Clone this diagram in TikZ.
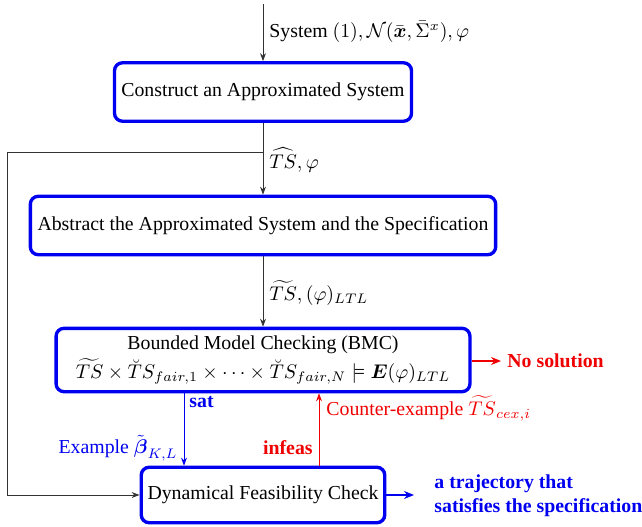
\documentclass[tikz,border=0pt]{standalone}
\usepackage{amsmath}
\usepackage{fontspec}
\setmainfont{Liberation Serif}
\usetikzlibrary{arrows.meta}
\definecolor{bblue}{RGB}{0,0,240}
\definecolor{rred}{RGB}{240,0,0}
\begin{document}
\begin{tikzpicture}[x=0.505pt,y=-0.505pt,
  stepbox/.style={draw=bblue,line width=1.7pt,rounded corners=4pt,align=center,inner sep=2pt},
  arr/.style={draw=black!80,line width=0.45pt,-{Stealth[length=4pt,width=3pt]}},
  blarr/.style={draw=bblue,line width=0.45pt,-{Stealth[length=4pt,width=3pt]}},
  rarr/.style={draw=rred,line width=0.45pt,-{Stealth[length=4pt,width=3pt]}},
  thickb/.style={draw=bblue,line width=1.1pt,-{Stealth[length=5pt,width=4pt]}},
  thickr/.style={draw=rred,line width=1.1pt,-{Stealth[length=5pt,width=4pt]}},
  lbl/.style={inner sep=0pt}
]
\useasboundingbox (0,0) rectangle (642,527);
% boxes
\node[stepbox,minimum width=150pt,minimum height=29.5pt] (b1) at (263,92) {Construct an Approximated System};
\node[stepbox,minimum width=235pt,minimum height=29.5pt] (b2) at (263,225.5) {Abstract the Approximated System and the Specification};
\node[stepbox,minimum width=209pt,minimum height=32pt] (b3) at (263,360) {Bounded Model Checking (BMC)\\[1pt]
  $\widetilde{TS}\times \breve{T}S_{fair,1}\times\cdots\times\breve{T}S_{fair,N}\models \boldsymbol{E}(\varphi)_{LTL}$};
\node[stepbox,minimum width=123pt,minimum height=28pt] (fc) at (263,495) {Dynamical Feasibility Check};
% coordinates
\coordinate (top) at (263,4);
\coordinate (br) at (263,152);
\coordinate (lf) at (7.4,300);
\coordinate (sx) at (184,0);
\coordinate (cx) at (319,0);
\coordinate (ns) at (501,361);
\coordinate (ot) at (414,495);
% connectors
\draw[arr] (top) -- (b1.north);
\draw[arr] (b1.south) -- (b2.north);
\draw[arr] (b2.south) -- (b3.north);
\draw[arr] (br) -| (lf) |- (fc.west);
\draw[blarr] (b3.south -| sx) -- (fc.north -| sx);
\draw[rarr] (fc.north -| cx) -- (b3.south -| cx);
\draw[thickr] (b3.east |- ns) -- (ns);
\draw[thickb] (fc.east) -- (ot);
% labels
\node[lbl,anchor=west] (l1) at (269,32) {System $(1),\mathcal{N}(\bar{\boldsymbol{x}},\bar{\Sigma}^x),\varphi$};
\node[lbl,anchor=west] (l2) at (269,160) {$\widehat{TS},\varphi$};
\node[lbl,anchor=west] (l3) at (269,293) {$\widetilde{TS},(\varphi)_{LTL}$};
\node[lbl,anchor=west,text=bblue,font=\bfseries] (lsat) at (189,402) {sat};
\node[lbl,anchor=east,text=bblue] (lex) at (178,448) {Example $\tilde{\boldsymbol{\beta}}_{K,L}$};
\node[lbl,anchor=east,text=rred,font=\bfseries] (linf) at (313,448) {infeas};
\node[lbl,anchor=west,text=rred] (lce) at (326,408) {Counter-example $\widetilde{TS}_{cex,i}$};
\node[lbl,anchor=west,text=rred,font=\bfseries] (lns) at (507,361) {No solution};
\node[lbl,anchor=west,text=bblue,font=\bfseries,align=left] (lout) at (434,496) {a trajectory that\\satisfies the specification};
\end{tikzpicture}
\end{document}
